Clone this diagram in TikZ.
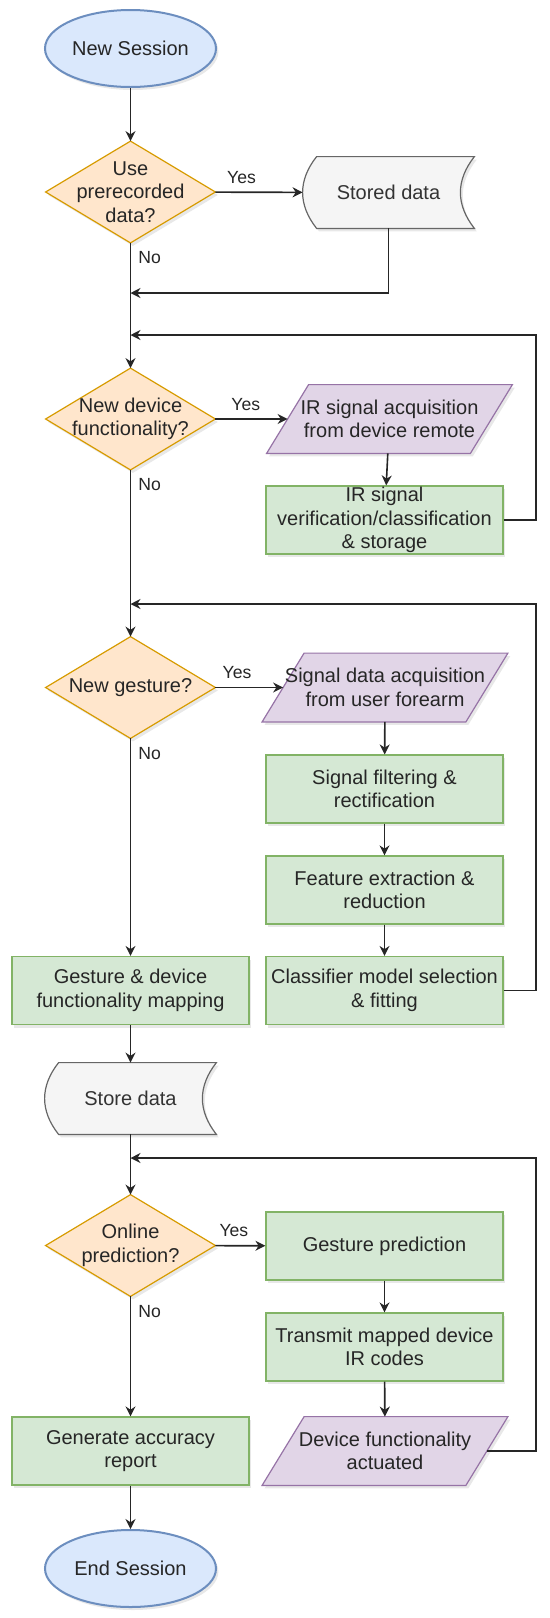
\documentclass[tikz,border=0pt]{standalone}
\usepackage{fontspec}
\setmainfont{Liberation Sans}
\usepackage{tikz}
\usetikzlibrary{arrows.meta,positioning,calc,shapes.geometric,shadows,backgrounds}
\definecolor{termfill}{HTML}{DAE8FC}
\definecolor{termline}{HTML}{6C8EBF}
\definecolor{decfill}{HTML}{FFE6CC}
\definecolor{decline}{HTML}{D79B00}
\definecolor{procfill}{HTML}{D5E8D4}
\definecolor{procline}{HTML}{82B366}
\definecolor{iofill}{HTML}{E1D5E7}
\definecolor{ioline}{HTML}{9673A6}
\definecolor{storefill}{HTML}{F5F5F5}
\definecolor{storeline}{HTML}{666666}
\definecolor{storetext}{HTML}{333333}
\newcommand{\flowfont}{\fontsize{10}{11.7}\selectfont}
\newcommand{\branchfont}{\fontsize{8.8}{10}\selectfont}
\tikzset{
  boxshadow/.style={drop shadow={opacity=0.18,shadow xshift=1.2pt,shadow yshift=-1.5pt}},
  terminalbox/.style={ellipse,draw=termline,fill=termfill,line width=1pt,boxshadow,
    minimum width=85.5pt,minimum height=38.5pt,inner sep=0pt,font=\flowfont,text=black!85},
  decisionbox/.style={rectangle,minimum width=84.5pt,minimum height=50.5pt,inner sep=0pt,
    align=center,font=\flowfont,text=black!85},
  processbox/.style={rectangle,draw=procline,fill=procfill,line width=0.6pt,boxshadow,
    minimum width=118.5pt,minimum height=34pt,inner sep=0.5pt,align=center,font=\flowfont,
    text=black!85},
  iobox/.style={rectangle,minimum width=101.5pt,minimum height=34pt,inner sep=0pt,
    align=center,font=\flowfont,text=black!85},
  storebox/.style={rectangle,minimum width=85.5pt,minimum height=35.5pt,inner sep=0pt,
    font=\flowfont,text=storetext},
  flowarrow/.style={-{Stealth[length=5pt,width=5pt]},line width=0.8pt,draw=black!85},
  yeslabel/.style={above=1.5pt,inner sep=2.5pt,font=\branchfont,text=black!85},
  nolabel/.style={pos=0,anchor=north west,inner sep=2.5pt,xshift=1pt,yshift=-1.5pt,
    font=\branchfont,text=black!85}
}

\begin{document}
\begin{tikzpicture}[x=0.5pt,y=-0.5pt]
  \useasboundingbox (0,0) rectangle (550,1618);

  \node[terminalbox] (start) at (130.5,48.5) {New Session};
  \node[decisionbox] (d1) at (130.5,192) {Use\\prerecorded\\data?};
  \node[storebox] (stored) at (388.5,192.5) {Stored data};
  \coordinate (m1) at (130.5,293);

  \coordinate (m2) at (130.5,335);
  \coordinate (c1) at (536,335);
  \node[decisionbox] (d2) at (130.5,419) {New device\\functionality?};
  \node[iobox] (iracq) at (389.5,419) {IR signal acquisition\\from device remote};
  \node[processbox] (irver) at (384.5,520)
    {IR signal\\verification/classification\\\& storage};

  \coordinate (m3) at (130.5,604);
  \coordinate (c2) at (536,604);
  \node[decisionbox] (d3) at (130.5,687.5) {New gesture?};
  \node[iobox] (sigacq) at (385,687.5) {Signal data acquisition\\from user forearm};
  \node[processbox] (filt) at (384.5,789) {Signal filtering \&\\rectification};
  \node[processbox] (feat) at (384.5,890) {Feature extraction \&\\reduction};
  \node[processbox] (clf) at (384.5,990.5) {Classifier model selection\\\& fitting};
  \node[processbox] (map) at (130.5,990.5) {Gesture \& device\\functionality mapping};
  \node[storebox] (store) at (130.5,1098.5) {Store data};

  \coordinate (m4) at (130.5,1158);
  \coordinate (c3) at (536,1158);
  \node[decisionbox] (d4) at (130.5,1245.5) {Online\\prediction?};
  \node[processbox] (pred) at (384.5,1246) {Gesture prediction};
  \node[processbox] (tx) at (384.5,1347) {Transmit mapped device\\IR codes};
  \node[iobox] (act) at (385,1451) {Device functionality\\actuated};
  \node[processbox] (report) at (130.5,1451) {Generate accuracy\\report};
  \node[terminalbox] (end) at (130.5,1568.5) {End Session};

  \begin{scope}[on background layer]
    \foreach \dn in {d1,d2,d3,d4}
      \draw[draw=decline,fill=decfill,line width=0.6pt,boxshadow]
        (\dn.north) -- (\dn.east) -- (\dn.south) -- (\dn.west) -- cycle;
    \foreach \io in {iracq,sigacq,act}
      \draw[draw=ioline,fill=iofill,line width=0.6pt,boxshadow]
        ([xshift=10.5pt]\io.north west) -- ([xshift=10.5pt]\io.north east)
        -- ([xshift=-10.5pt]\io.south east) -- ([xshift=-10.5pt]\io.south west) -- cycle;
    \foreach \st in {stored,store}
      \draw[draw=storeline,fill=storefill,line width=0.6pt,boxshadow]
        ([xshift=7pt]\st.north west) -- (\st.north east)
        .. controls ([xshift=-9.33pt,yshift=-11.83pt]\st.north east)
        and ([xshift=-9.33pt,yshift=11.83pt]\st.south east) .. (\st.south east)
        -- ([xshift=7pt]\st.south west)
        .. controls ([xshift=-2.33pt,yshift=11.83pt]\st.south west)
        and ([xshift=-2.33pt,yshift=-11.83pt]\st.north west) .. ([xshift=7pt]\st.north west)
        -- cycle;
  \end{scope}

  \draw[flowarrow] (start) -- (d1);
  \draw[flowarrow] (d1) -- node[yeslabel,pos=0.3] {Yes} (stored);
  \draw[flowarrow] (stored) |- (m1);
  \draw[flowarrow] (d1) -- node[nolabel] {No} (d2);

  \draw[flowarrow] (d2) -- node[yeslabel,pos=0.42] {Yes} (iracq);
  \draw[flowarrow] (iracq) -- (irver);
  \draw[flowarrow] (irver) -| (c1) -- (m2);
  \draw[flowarrow] (d2) -- node[nolabel] {No} (d3);

  \draw[flowarrow] (d3) -- node[yeslabel,pos=0.32] {Yes} (sigacq);
  \draw[flowarrow] (sigacq) -- (filt);
  \draw[flowarrow] (filt) -- (feat);
  \draw[flowarrow] (feat) -- (clf);
  \draw[flowarrow] (clf) -| (c2) -- (m3);
  \draw[flowarrow] (d3) -- node[nolabel] {No} (map);
  \draw[flowarrow] (map) -- (store);
  \draw[flowarrow] (store) -- (d4);

  \draw[flowarrow] (d4) -- node[yeslabel,pos=0.37] {Yes} (pred);
  \draw[flowarrow] (pred) -- (tx);
  \draw[flowarrow] (tx) -- (act);
  \draw[flowarrow] (act) -| (c3) -- (m4);
  \draw[flowarrow] (d4) -- node[nolabel] {No} (report);
  \draw[flowarrow] (report) -- (end);
\end{tikzpicture}
\end{document}
